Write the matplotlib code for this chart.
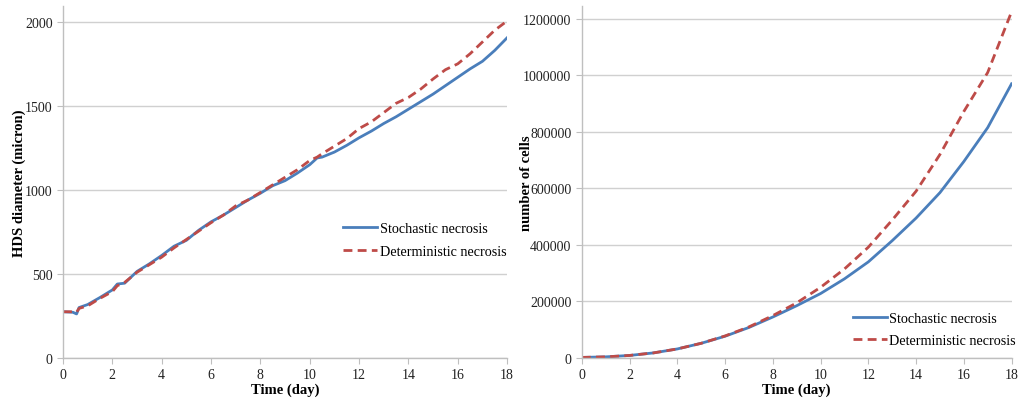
import matplotlib.pyplot as plt
import numpy as np
from matplotlib.ticker import FuncFormatter

# HDS diameter (micron) vs time (day)
days_d = [0, 0.4, 0.55, 0.65, 1, 1.5, 2, 2.2, 2.5, 3, 3.5, 4, 4.5, 5, 5.5, 6, 6.5,
          7, 7.5, 8, 8.5, 9, 9.5, 10, 10.3, 10.5, 11, 11.5, 12, 12.5, 13, 13.5,
          14, 14.5, 15, 15.5, 16, 16.5, 17, 17.5, 18]
diam_stoch = [275, 272, 262, 300, 318, 360, 405, 440, 445, 515, 560, 610, 665, 700,
              760, 810, 850, 895, 940, 980, 1025, 1055, 1100, 1150, 1190, 1195, 1225,
              1265, 1310, 1350, 1395, 1435, 1480, 1525, 1570, 1620, 1670, 1720, 1765,
              1830, 1905]
diam_det = [275, 275, 272, 295, 310, 355, 395, 430, 450, 510, 555, 600, 655, 705,
            755, 805, 850, 905, 940, 985, 1030, 1075, 1120, 1175, 1195, 1215, 1260,
            1305, 1365, 1405, 1460, 1515, 1550, 1600, 1660, 1715, 1750, 1810, 1880,
            1950, 2005]

# number of cells vs time (day)
days_n = list(range(19))
cells_stoch = [2000, 4000, 9000, 18000, 32000, 52000, 77000, 108000, 145000, 185000,
               228000, 280000, 340000, 415000, 495000, 585000, 695000, 815000, 970000]
cells_det = [2000, 4000, 9000, 18000, 32000, 52000, 78000, 110000, 150000, 195000,
             250000, 315000, 392000, 488000, 590000, 720000, 872000, 1010000, 1225000]

labels = ['Stochastic necrosis', 'Deterministic necrosis']
blue = '#4a7ebb'
red = '#be4b48'

plt.rcParams['font.family'] = ['Liberation Serif', 'DejaVu Serif']
plt.rcParams['font.size'] = 10

fig = plt.figure(figsize=(10.28, 4.02), dpi=100)
ax1 = fig.add_axes([0.0613, 0.107, 0.432, 0.876])
ax2 = fig.add_axes([0.566, 0.107, 0.418, 0.876])


def style(ax, ymax, yticks):
    ax.set_xlim(0, 18)
    ax.set_ylim(0, ymax)
    ax.set_xticks(np.arange(0, 19, 2))
    ax.set_yticks(yticks)
    ax.yaxis.set_major_formatter(FuncFormatter(lambda v, p: f'{int(round(v))}'))
    ax.grid(axis='y', color='#d0d0d0', linewidth=1.0)
    ax.set_axisbelow(True)
    for s in ['top', 'right']:
        ax.spines[s].set_visible(False)
    for s in ['left', 'bottom']:
        ax.spines[s].set_color('#bfbfbf')
        ax.spines[s].set_linewidth(1.0)
    ax.tick_params(axis='both', colors='#bfbfbf', labelcolor='#222222',
                   length=4, labelsize=10)
    ax.set_xlabel('Time (day)', fontweight='bold', fontsize=10.5, labelpad=1)


dash = (0, (3.2, 1.9))

ax1.plot(days_d, diam_stoch, color=blue, lw=2.0, label=labels[0])
ax1.plot(days_d, diam_det, color=red, lw=2.0, ls=dash, label=labels[1])
style(ax1, 2095, np.arange(0, 2001, 500))
ax1.set_ylabel('HDS diameter (micron)', fontweight='bold', fontsize=10.5, labelpad=-1)
ax1.legend(loc='upper left', bbox_to_anchor=(0.63, 0.385), frameon=False,
           handlelength=2.4, handletextpad=0.2, labelspacing=0.65, fontsize=10.2,
           borderaxespad=0, borderpad=0)

ax2.plot(days_n, cells_stoch, color=blue, lw=2.0, label=labels[0])
ax2.plot(days_n, cells_det, color=red, lw=2.0, ls=dash, label=labels[1])
style(ax2, 1246000, np.arange(0, 1200001, 200000))
ax2.set_ylabel('number of cells', fontweight='bold', fontsize=10.5, labelpad=-7)
ax2.legend(loc='upper left', bbox_to_anchor=(0.63, 0.13), frameon=False,
           handlelength=2.4, handletextpad=0.2, labelspacing=0.65, fontsize=10.2,
           borderaxespad=0, borderpad=0)

fig.savefig('out.png', dpi=100)
